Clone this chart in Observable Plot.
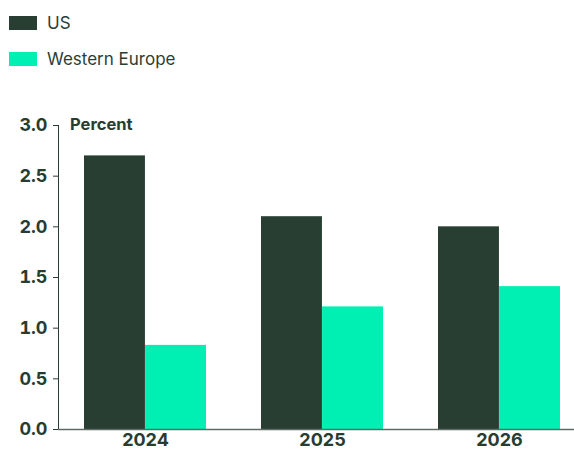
<!DOCTYPE html>
<html>
<head>
<meta charset="utf-8">
<script src="https://cdn.jsdelivr.net/npm/d3@7"></script>
<script src="https://cdn.jsdelivr.net/npm/@observablehq/plot@0.6"></script>
<style>
  body { margin: 0; background: #fff; font-family: Inter, "DejaVu Sans", sans-serif; }
  #wrap { position: relative; width: 574px; height: 450px; }
  .legend { position: absolute; left: 9px; display: flex; align-items: center; font-size: 17px; color: #2b3e35; }
  .legend .sw { width: 28px; height: 14px; margin-right: 10px; }
  #ylabel { position: absolute; left: 70px; top: 114px; font-size: 16.5px; font-weight: 700; color: #283d32; }
  #chart { position: absolute; left: 0; top: 0; }
</style>
</head>
<body>
<div id="wrap">
  <div id="chart"></div>
  <div id="legend"></div>
  <div id="ylabel">Percent</div>
</div>
<script>
const years = ["2024", "2025", "2026"];
const series = ["US", "Western Europe"];
const usValues = [2.7, 2.1, 2.0];
const europeValues = [0.83, 1.21, 1.41];
const colors = ["#283e32", "#00f0b4"];
const yTicks = [0, 0.5, 1.0, 1.5, 2.0, 2.5, 3.0];

const usRows = years.map((y, i) => ({year: y, series: series[0], value: usValues[i]}));
const euRows = years.map((y, i) => ({year: y, series: series[1], value: europeValues[i]}));

// legend
const legend = document.getElementById("legend");
series.forEach((s, i) => {
  const row = document.createElement("div");
  row.className = "legend";
  row.style.top = (i === 0 ? 13 : 49) + "px";
  row.innerHTML = `<div class="sw" style="background:${colors[i]}"></div><span>${s}</span>`;
  legend.appendChild(row);
});

// layout of the band scale
const W = 574, ML = 58, MR = 0;
const padIn = 0.31, padOut = 0.1126, align = 0.65;
const step = (W - ML - MR) / (years.length - padIn + 2 * padOut);
const halfBand = step * (1 - padIn) / 2;

const chart = Plot.plot({
  width: W,
  height: 450,
  marginLeft: ML,
  marginRight: MR,
  marginTop: 125,
  marginBottom: 21,
  style: {fontFamily: "Inter, 'DejaVu Sans', sans-serif", fontSize: "18px", fontWeight: 700, color: "#283d32", background: "transparent"},
  x: {domain: years, paddingInner: padIn, paddingOuter: padOut, align: align, label: null, tickSize: 0, tickPadding: 4},
  y: {domain: [0, 3], ticks: yTicks, tickFormat: d3.format(".1f"), tickSize: 5, tickPadding: 6, label: null, line: true},
  color: {domain: series, range: colors},
  marks: [
    Plot.barY(usRows, {x: "year", y: "value", fill: "series", insetRight: halfBand}),
    Plot.barY(euRows, {x: "year", y: "value", fill: "series", insetLeft: halfBand}),
    Plot.ruleY([0], {stroke: "#5f6b65", strokeWidth: 1.5})
  ]
});
document.getElementById("chart").appendChild(chart);
chart.querySelectorAll("[aria-label$='axis'] path, [aria-label$='axis'] line").forEach(e => e.setAttribute("stroke", "#5f6b65"));
</script>
</body>
</html>
